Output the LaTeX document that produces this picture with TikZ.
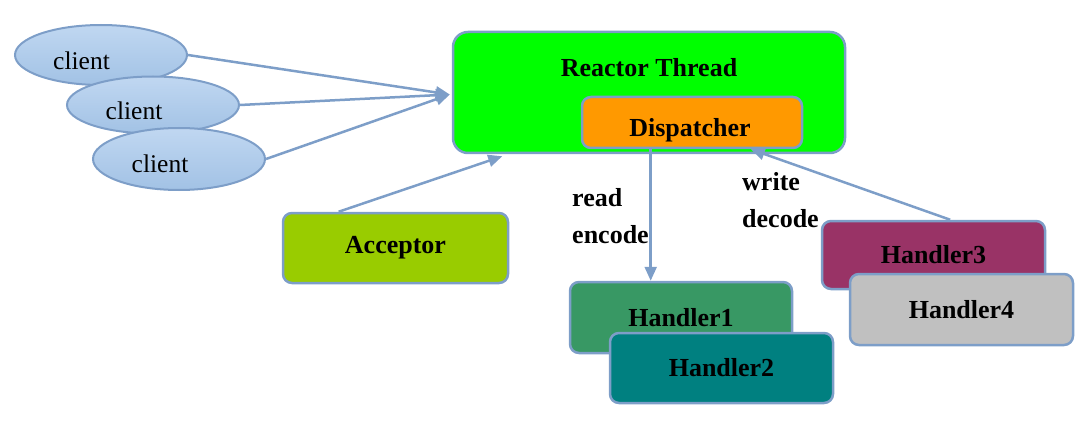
\documentclass[tikz,border=0pt]{standalone}
\usepackage{fontspec}
\setmainfont{Liberation Serif}
\usetikzlibrary{shapes.geometric,arrows.meta,calc}
\definecolor{edge}{RGB}{125,158,200}
\definecolor{elltop}{RGB}{192,215,241}
\definecolor{ellbot}{RGB}{162,194,229}
\definecolor{rtgreen}{RGB}{0,255,0}
\definecolor{disporange}{RGB}{255,153,0}
\definecolor{accgreen}{RGB}{153,204,0}
\definecolor{hone}{RGB}{56,152,100}
\definecolor{htwo}{RGB}{0,128,128}
\definecolor{hthree}{RGB}{153,51,102}
\definecolor{hfour}{RGB}{192,192,192}
\tikzset{
  clientell/.style={ellipse, draw=edge, line width=2pt, top color=elltop, bottom color=ellbot, minimum width=172pt, minimum height=60pt, inner sep=0pt},
  boxnode/.style={draw=edge, line width=2.5pt, rounded corners=9pt, inner sep=0pt, font=\fontsize{26}{31}\selectfont\bfseries},
  plaintxt/.style={inner sep=0pt, font=\fontsize{25.5}{30}\selectfont},
  boldtxt/.style={inner sep=0pt, font=\fontsize{26}{31}\selectfont\bfseries},
  conn/.style={draw=edge, line width=2.5pt, -{Triangle[length=14pt,width=12pt]}}
}
\begin{document}
\begin{tikzpicture}[x=1pt,y=-1pt]
\useasboundingbox (0,0) rectangle (1090,441);
% reactor thread
\node[boxnode, fill=rtgreen, rounded corners=15pt, minimum width=392pt, minimum height=121pt] (rt) at (649,92.5) {};
\node[boldtxt, anchor=base] (rtt) at (649,77) {Reactor Thread};
\node[boxnode, fill=disporange, minimum width=220pt, minimum height=51pt] (disp) at (692,122.5) {};
\node[boldtxt, anchor=base] (dispt) at (690,137) {Dispatcher};
% clients
\node[clientell, minimum height=60pt] (c1) at (101,55) {};
\node[plaintxt, anchor=base] (c1t) at (81.5,70) {client};
\node[clientell, minimum height=57pt] (c2) at (153,105) {};
\node[plaintxt, anchor=base] (c2t) at (134,120) {client};
\node[clientell, minimum height=62pt] (c3) at (179,159) {};
\node[plaintxt, anchor=base] (c3t) at (160,172) {client};
% acceptor
\node[boxnode, fill=accgreen, minimum width=225pt, minimum height=70pt] (acc) at (395.5,248) {Acceptor};
% handlers
\node[boxnode, fill=hone, minimum width=222pt, minimum height=71pt] (h1) at (681,317.5) {Handler1};
\node[boxnode, fill=htwo, minimum width=223pt, minimum height=70pt] (h2) at (721.5,368) {Handler2};
\node[boxnode, fill=hthree, minimum width=223pt, minimum height=68pt] (h3) at (933.5,255) {Handler3};
\node[boxnode, fill=hfour, minimum width=223pt, minimum height=71pt] (h4) at (961.5,309.5) {Handler4};
% labels
\node[boldtxt, anchor=base west] (rd) at (572,207) {read};
\node[boldtxt, anchor=base west] (enc) at (572,243) {encode};
\node[boldtxt, anchor=base west] (wr) at (742,190) {write};
\node[boldtxt, anchor=base west] (dec) at (742,227) {decode};
% connectors
\coordinate (rtin) at ($(rt.west)+(-2,2)$);
\draw[conn] (c1.east) -- (rtin);
\draw[conn] (c2.east) -- (rtin);
\draw[conn] (c3.east) -- (rtin);
\coordinate (accout) at ($(acc.north west)!0.25!(acc.north east)$);
\coordinate (rtbot) at ($(rt.south west)!0.128!(rt.south east)$);
\draw[conn] (accout) -- ($(rtbot)+(0,2)$);
\coordinate (h1in) at ($(h1.north west)!0.365!(h1.north east)$);
\draw[conn] (disp.south -| h1in) -- (h1in);
\coordinate (h3out) at ($(h3.north west)!0.574!(h3.north east)$);
\coordinate (dispin) at ($(disp.south west)!0.764!(disp.south east)$);
\draw[conn] (h3out) -- (dispin);
\end{tikzpicture}
\end{document}
